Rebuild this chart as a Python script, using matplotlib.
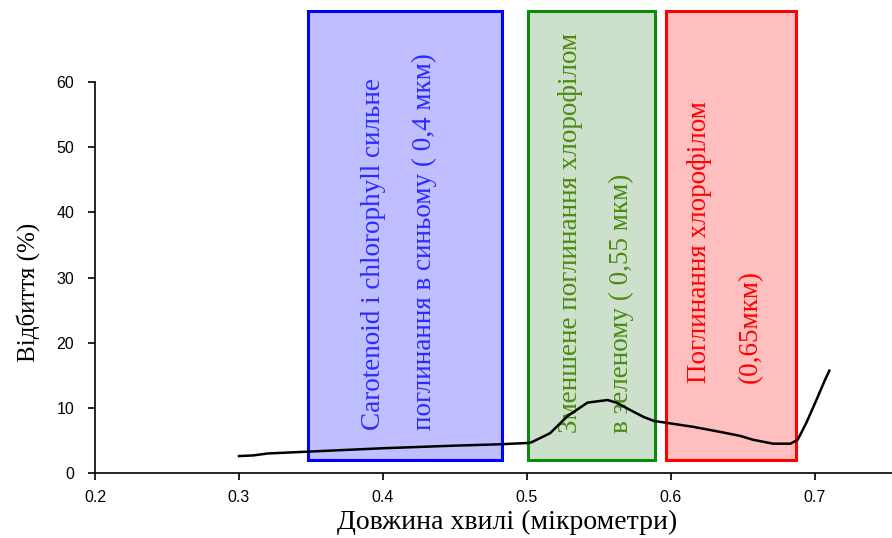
import matplotlib.pyplot as plt
from matplotlib.patches import Rectangle

# спектр відбиття
wavelength = [0.300, 0.310, 0.320, 0.350, 0.400, 0.450, 0.480, 0.500, 0.503, 0.516,
              0.528, 0.542, 0.556, 0.562, 0.574, 0.581, 0.588, 0.597, 0.615, 0.632,
              0.648, 0.657, 0.671, 0.683, 0.688, 0.694, 0.701, 0.707, 0.710]
reflectance = [2.6, 2.7, 3.0, 3.3, 3.8, 4.2, 4.4, 4.6, 4.7, 6.1,
               8.7, 10.8, 11.2, 10.8, 9.4, 8.6, 8.0, 7.7, 7.1, 6.4,
               5.7, 5.1, 4.5, 4.5, 5.1, 7.7, 11.2, 14.3, 15.7]

# смуги поглинання: (ліва межа, права межа)
band_ranges = [(0.348, 0.483), (0.5007, 0.589), (0.5965, 0.687)]
band_texts = ["Carotenoid і chlorophyll сильне\nпоглинання в синьому ( 0,4 мкм)",
              "Зменшене поглинання хлорофілом\nв зеленому ( 0,55 мкм)",
              "Поглинання хлорофілом\n(0,65мкм)"]
band_fill = ['#bfbfff', '#cde0cc', '#ffbfbf']
band_edge = ['#0000ff', '#0a8a0a', '#ff0000']
band_text_color = ['#2a2aff', '#4a8a10', '#ff0000']
text_pos = [(0.4108, 6.6), (0.5479, 6.15), (0.6375, 13.85)]

fig = plt.figure(figsize=(8.92, 5.38), dpi=100)
ax = fig.add_axes([0.1065, 0.1208, 0.8935, 0.7268])

for (x0, x1), fc, ec in zip(band_ranges, band_fill, band_edge):
    ax.add_patch(Rectangle((x0, 2.0), x1 - x0, 68.9, facecolor=fc, edgecolor=ec,
                           linewidth=2.2, clip_on=False, zorder=1))

for (tx, ty), txt, col in zip(text_pos, band_texts, band_text_color):
    ax.text(tx, ty, txt, rotation=90, ha='center', va='bottom', multialignment='left',
            color=col, fontsize=19.5, family='Liberation Serif', linespacing=2.35, zorder=2)

ax.plot(wavelength, reflectance, color='black', linewidth=1.8, zorder=3)

ax.set_xlim(0.2, 0.7535)
ax.set_ylim(0, 60)
ax.set_xticks([0.2, 0.3, 0.4, 0.5, 0.6, 0.7])
ax.set_xticklabels(['0.2', '0.3', '0.4', '0.5', '0.6', '0.7'])
ax.set_yticks([0, 10, 20, 30, 40, 50, 60])

for side in ['top', 'right']:
    ax.spines[side].set_visible(False)
ax.spines['left'].set_linewidth(1.2)
ax.spines['bottom'].set_linewidth(1.2)
ax.tick_params(direction='out', length=5, width=1.2, labelsize=11.5)
ax.tick_params(axis='y', pad=10)
ax.tick_params(axis='x', pad=7)
for lbl in ax.get_xticklabels() + ax.get_yticklabels():
    lbl.set_family('Liberation Sans')

ax.set_xlabel('Довжина хвилі (мікрометри)', family='Liberation Serif', fontsize=20)
ax.xaxis.set_label_coords(0.517, -0.093)
ax.set_ylabel('Відбиття (%)', family='Liberation Serif', fontsize=18)
ax.yaxis.set_label_coords(-0.069, 0.463)

plt.savefig('out.png', dpi=100)
plt.close()
